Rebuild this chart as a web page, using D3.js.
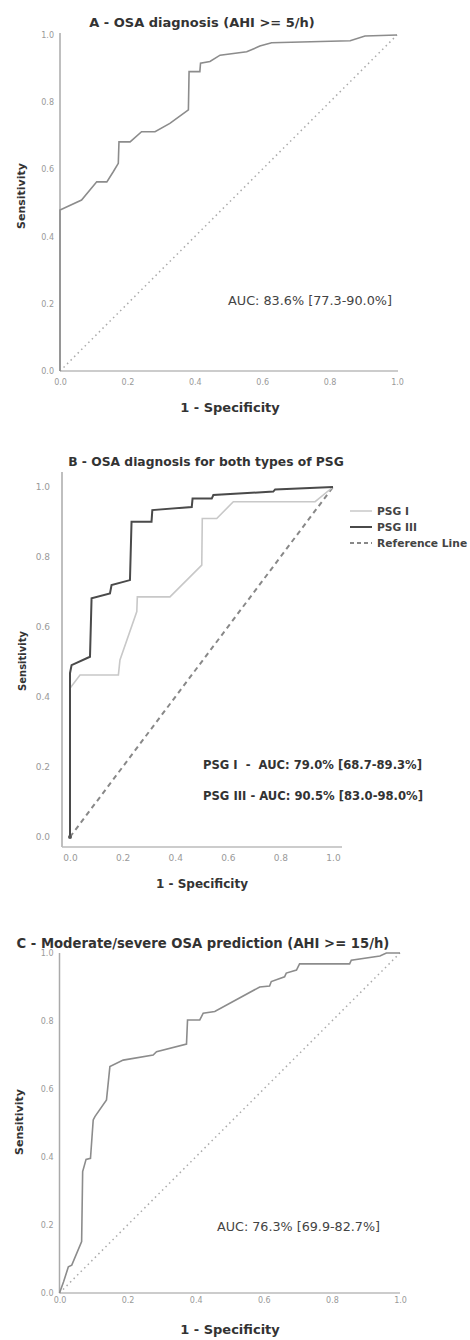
<!DOCTYPE html>
<html>
<head>
<meta charset="utf-8">
<script src="https://cdn.jsdelivr.net/npm/d3@7"></script>
<style>
  body { margin: 0; background: #fff; }
  svg text { font-family: "DejaVu Sans", sans-serif; }
</style>
</head>
<body>
<svg id="chart"></svg>
<script>
// axis ticks shared by all three panels
var tickValues = [0, 0.2, 0.4, 0.6, 0.8, 1.0];

// Panel A - OSA diagnosis (AHI >= 5/h)
var fprA = [0, 0, 0.064, 0.109, 0.139, 0.158, 0.173, 0.175, 0.208, 0.242, 0.282, 0.326, 0.381, 0.383, 0.415, 0.417, 0.445, 0.475, 0.554, 0.593, 0.628, 0.861, 0.905, 1];
var tprA = [0, 0.479, 0.509, 0.563, 0.563, 0.593, 0.618, 0.682, 0.682, 0.712, 0.712, 0.737, 0.777, 0.891, 0.891, 0.916, 0.921, 0.94, 0.95, 0.967, 0.977, 0.983, 0.997, 1];

// Panel B - PSG I / PSG III
var fprB1 = [0, 0, 0.038, 0.184, 0.19, 0.254, 0.256, 0.38, 0.501, 0.503, 0.558, 0.621, 0.932, 1];
var tprB1 = [0, 0.425, 0.463, 0.463, 0.506, 0.644, 0.686, 0.686, 0.777, 0.91, 0.91, 0.958, 0.958, 1];
var fprB3 = [0, 0, 0.006, 0.076, 0.082, 0.152, 0.158, 0.228, 0.234, 0.31, 0.313, 0.463, 0.466, 0.539, 0.545, 0.773, 0.78, 1];
var tprB3 = [0, 0.468, 0.491, 0.515, 0.682, 0.696, 0.72, 0.734, 0.901, 0.901, 0.934, 0.943, 0.967, 0.967, 0.977, 0.987, 0.993, 1];

// Panel C - Moderate/severe OSA prediction (AHI >= 15/h)
var fprC = [0, 0.012, 0.026, 0.036, 0.065, 0.068, 0.078, 0.091, 0.099, 0.104, 0.138, 0.148, 0.187, 0.275, 0.285, 0.373, 0.376, 0.412, 0.422, 0.456, 0.588, 0.617, 0.622, 0.661, 0.666, 0.696, 0.705, 0.852, 0.857, 0.941, 0.96, 1];
var tprC = [0, 0.033, 0.077, 0.082, 0.151, 0.357, 0.393, 0.396, 0.509, 0.519, 0.568, 0.666, 0.685, 0.7, 0.71, 0.732, 0.803, 0.803, 0.823, 0.828, 0.9, 0.903, 0.916, 0.93, 0.941, 0.95, 0.968, 0.968, 0.979, 0.991, 1, 1];

var titles = ["A - OSA diagnosis (AHI >= 5/h)", "B - OSA diagnosis for both types of PSG", "C - Moderate/severe OSA prediction (AHI >= 15/h)"];
var legendLabels = ["PSG I", "PSG III", "Reference Line"];
var aucA = "AUC: 83.6% [77.3-90.0%]";
var aucB = ["PSG I  -  AUC: 79.0% [68.7-89.3%]", "PSG III - AUC: 90.5% [83.0-98.0%]"];
var aucC = "AUC: 76.3% [69.9-82.7%]";

function zip(xs, ys) {
    return xs.map(function(d, i) { return [d, ys[i]]; });
}

const width = 470;
const height = 1340;

var svg = d3.select("#chart")
    .attr("width", width)
    .attr("height", height)
    .attr("viewBox", [0, 0, width, height]);

var line = function(x, y) {
    return d3.line().x(function(d) { return x(d[0]); }).y(function(d) { return y(d[1]); });
};

function drawAxes(g, x, y, o) {
    // y axis
    var ya = g.append("g")
        .attr("transform", "translate(" + o.axisX + ",0)")
        .call(d3.axisLeft(y).tickValues(tickValues).tickFormat(d3.format(".1f")).tickSize(0).tickPadding(o.tickPad));
    ya.select(".domain").remove();
    g.append("line")
        .attr("x1", o.axisX).attr("x2", o.axisX)
        .attr("y1", o.yTop).attr("y2", o.axisY)
        .attr("stroke", "#aaa").attr("stroke-width", 1.5);

    // x axis
    var xa = g.append("g")
        .attr("transform", "translate(0," + o.axisY + ")")
        .call(d3.axisBottom(x).tickValues(tickValues).tickFormat(d3.format(".1f")).tickSize(0).tickPadding(o.tickPadX));
    xa.select(".domain").remove();
    g.append("line")
        .attr("x1", o.axisX).attr("x2", o.xRight)
        .attr("y1", o.axisY).attr("y2", o.axisY)
        .attr("stroke", "#bbb").attr("stroke-width", 1.5);

    g.selectAll(".tick text")
        .attr("fill", "#999")
        .attr("font-size", o.tickSize)
        .attr("font-family", "DejaVu Sans, sans-serif");

    g.append("text")
        .attr("x", o.titleX).attr("y", o.titleY)
        .attr("text-anchor", "middle")
        .attr("font-weight", "bold")
        .attr("font-size", o.titleSize)
        .attr("fill", "#333")
        .text(o.title);

    g.append("text")
        .attr("x", o.xLabelX).attr("y", o.xLabelY)
        .attr("text-anchor", "middle")
        .attr("font-weight", "bold")
        .attr("font-size", o.labelSize)
        .attr("fill", "#333")
        .text("1 - Specificity");

    g.append("text")
        .attr("transform", "translate(" + o.yLabelX + "," + o.yLabelY + ") rotate(-90)")
        .attr("text-anchor", "middle")
        .attr("font-weight", "bold")
        .attr("font-size", o.ylabelSize)
        .attr("fill", "#333")
        .text("Sensitivity");
}

// ---- Panel A
(function() {
    var g = svg.append("g");
    var x = d3.scaleLinear([0, 1], [60, 397]);
    var y = d3.scaleLinear([0, 1], [371, 35]);
    drawAxes(g, x, y, {
        axisX: 60, axisY: 371, yTop: 33, xRight: 398, tickPad: 6, tickPadX: 8, tickSize: 8,
        title: titles[0], titleX: 202, titleY: 27, titleSize: 13,
        xLabelX: 230, xLabelY: 412, labelSize: 13, yLabelX: 25, yLabelY: 196, ylabelSize: 11
    });
    g.append("path").datum([[0, 0], [1, 1]])
        .attr("d", line(x, y))
        .attr("fill", "none").attr("stroke", "#aaa").attr("stroke-width", 1.5)
        .attr("stroke-dasharray", "1.5,3.5");
    g.append("path").datum(zip(fprA, tprA))
        .attr("d", line(x, y))
        .attr("fill", "none").attr("stroke", "#8c8c8c").attr("stroke-width", 1.6);
    g.append("text")
        .attr("x", 228).attr("y", 305)
        .attr("font-size", 12).attr("fill", "#444")
        .attr("textLength", 164).attr("lengthAdjust", "spacingAndGlyphs")
        .text(aucA);
})();

// ---- Panel B
(function() {
    var g = svg.append("g");
    var x = d3.scaleLinear([0, 1], [70, 333]);
    var y = d3.scaleLinear([0, 1], [837, 487]);
    drawAxes(g, x, y, {
        axisX: 62, axisY: 847, yTop: 472, xRight: 342, tickPad: 12, tickPadX: 8, tickSize: 9,
        title: titles[1], titleX: 206, titleY: 466, titleSize: 12.3,
        xLabelX: 202, xLabelY: 888, labelSize: 12, yLabelX: 26, yLabelY: 661, ylabelSize: 10
    });
    g.append("path").datum([[0, 0], [1, 1]])
        .attr("d", line(x, y))
        .attr("fill", "none").attr("stroke", "#888").attr("stroke-width", 2)
        .attr("stroke-dasharray", "5,4");
    g.append("path").datum(zip(fprB1, tprB1))
        .attr("d", line(x, y))
        .attr("fill", "none").attr("stroke", "#c8c8c8").attr("stroke-width", 1.6);
    g.append("path").datum(zip(fprB3, tprB3))
        .attr("d", line(x, y))
        .attr("fill", "none").attr("stroke", "#4a4a4a").attr("stroke-width", 2);
    g.append("circle").attr("cx", x(0)).attr("cy", y(0)).attr("r", 2).attr("fill", "#555");

    // legend
    var legendStyles = [
        { stroke: "#c8c8c8", width: 1.5, dash: null },
        { stroke: "#4a4a4a", width: 2, dash: null },
        { stroke: "#888", width: 2, dash: "4,3" }
    ];
    var leg = g.append("g").attr("transform", "translate(350,511)");
    legendLabels.forEach(function(lbl, i) {
        var row = leg.append("g").attr("transform", "translate(0," + (i * 16) + ")");
        row.append("line").attr("x1", 0).attr("x2", 22).attr("y1", 0).attr("y2", 0)
            .attr("stroke", legendStyles[i].stroke).attr("stroke-width", legendStyles[i].width)
            .attr("stroke-dasharray", legendStyles[i].dash);
        row.append("text").attr("x", 27).attr("y", 4)
            .attr("font-size", 10.7).attr("font-weight", "bold").attr("fill", "#444")
            .text(lbl);
    });

    g.append("text").attr("x", 203).attr("y", 769)
        .attr("font-size", 11.5).attr("font-weight", "bold").attr("fill", "#333")
        .attr("xml:space", "preserve")
        .attr("textLength", 219).attr("lengthAdjust", "spacingAndGlyphs")
        .text(aucB[0]);
    g.append("text").attr("x", 203).attr("y", 800)
        .attr("font-size", 11.5).attr("font-weight", "bold").attr("fill", "#333")
        .attr("textLength", 220).attr("lengthAdjust", "spacingAndGlyphs")
        .text(aucB[1]);
})();

// ---- Panel C
(function() {
    var g = svg.append("g");
    var x = d3.scaleLinear([0, 1], [59.5, 400]);
    var y = d3.scaleLinear([0, 1], [1293, 953]);
    drawAxes(g, x, y, {
        axisX: 59.5, axisY: 1293, yTop: 953, xRight: 400, tickPad: 6, tickPadX: 4, tickSize: 8,
        title: titles[2], titleX: 203, titleY: 948, titleSize: 13.2,
        xLabelX: 230, xLabelY: 1334, labelSize: 13, yLabelX: 23, yLabelY: 1122, ylabelSize: 11
    });
    g.append("path").datum([[0, 0], [1, 1]])
        .attr("d", line(x, y))
        .attr("fill", "none").attr("stroke", "#aaa").attr("stroke-width", 1.5)
        .attr("stroke-dasharray", "1.5,3.5");
    g.append("path").datum(zip(fprC, tprC))
        .attr("d", line(x, y))
        .attr("fill", "none").attr("stroke", "#8c8c8c").attr("stroke-width", 1.6);
    g.append("text")
        .attr("x", 217).attr("y", 1231)
        .attr("font-size", 12).attr("fill", "#444")
        .attr("textLength", 163).attr("lengthAdjust", "spacingAndGlyphs")
        .text(aucC);
})();
</script>
</body>
</html>
